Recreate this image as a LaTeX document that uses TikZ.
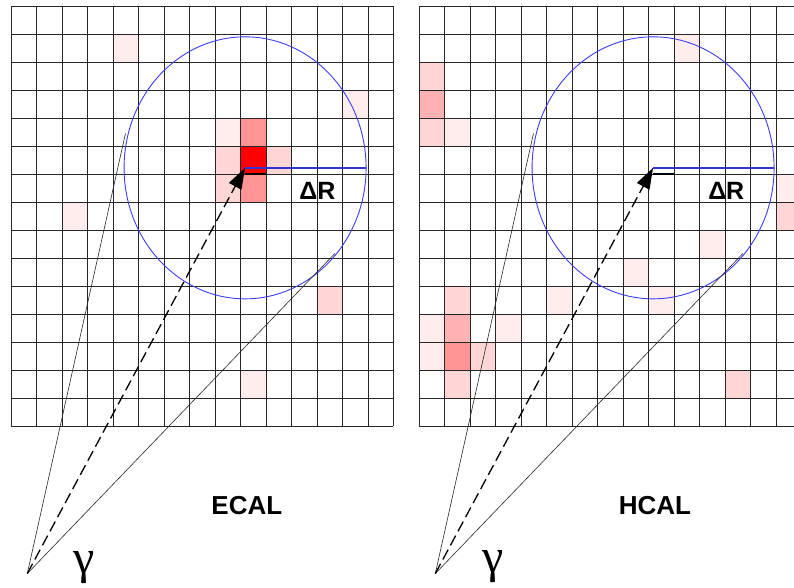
\documentclass[tikz,border=0pt]{standalone}
\usepackage{fontspec}
\setsansfont{Liberation Sans}
\newfontfamily\greekfont{Liberation Serif}
\usetikzlibrary{arrows.meta}
\definecolor{ringblue}{RGB}{60,60,250}

\begin{document}
\begin{tikzpicture}[x=25.5pt, y=-28pt,
  gridline/.style={black!85, line width=0.75pt},
  ringline/.style={ringblue, line width=0.9pt},
  radiusline/.style={ringblue!85!black, line width=1.6pt},
  coneline/.style={black!85, line width=0.6pt},
  axisline/.style={black, line width=1.3pt, dash pattern=on 11pt off 5pt, -{Triangle[length=21pt,width=14pt]}},
  stubline/.style={black, line width=1.3pt},
  hitfaint/.style={fill=red!7},
  hitlight/.style={fill=red!16},
  hitmid/.style={fill=red!30},
  hitstrong/.style={fill=red!42},
  hitcore/.style={fill=red},
  calname/.style={font=\sffamily\bfseries\fontsize{26}{27}\selectfont},
  drname/.style={font=\sffamily\bfseries\fontsize{25}{26}\selectfont},
  gammaname/.style={font=\greekfont\fontsize{48}{48}\selectfont}]
\clip (-0.431,-0.214) rectangle (30.706,20.786);
% ECAL deposits
\fill[hitfaint] (4,1) rectangle (5,2);
\fill[hitfaint] (13,3) rectangle (14,4);
\fill[hitfaint] (8,4) rectangle (9,5);
\fill[hitstrong] (9,4) rectangle (10,5);
\fill[hitlight] (8,5) rectangle (9,6);
\fill[hitcore] (9,5) rectangle (10,6);
\fill[hitlight] (10,5) rectangle (11,6);
\fill[hitlight] (8,6) rectangle (9,7);
\fill[hitstrong] (9,6) rectangle (10,7);
\fill[hitfaint] (2,7) rectangle (3,8);
\fill[hitlight] (12,10) rectangle (13,11);
\fill[hitfaint] (9,13) rectangle (10,14);
% HCAL deposits
\fill[hitfaint] (26,1) rectangle (27,2);
\fill[hitlight] (16,2) rectangle (17,3);
\fill[hitmid] (16,3) rectangle (17,4);
\fill[hitlight] (16,4) rectangle (17,5);
\fill[hitfaint] (17,4) rectangle (18,5);
\fill[hitfaint] (30,6) rectangle (31,7);
\fill[hitlight] (30,7) rectangle (31,8);
\fill[hitfaint] (27,8) rectangle (28,9);
\fill[hitfaint] (24,9) rectangle (25,10);
\fill[hitlight] (17,10) rectangle (18,11);
\fill[hitfaint] (21,10) rectangle (22,11);
\fill[hitfaint] (25,10) rectangle (26,11);
\fill[hitfaint] (16,11) rectangle (17,12);
\fill[hitmid] (17,11) rectangle (18,12);
\fill[hitfaint] (19,11) rectangle (20,12);
\fill[hitfaint] (16,12) rectangle (17,13);
\fill[hitstrong] (17,12) rectangle (18,13);
\fill[hitlight] (18,12) rectangle (19,13);
\fill[hitlight] (17,13) rectangle (18,14);
\fill[hitlight] (28,13) rectangle (29,14);
% ECAL towers
\draw[gridline] (0,0) -- (0,15);
\draw[gridline] (1,0) -- (1,15);
\draw[gridline] (2,0) -- (2,15);
\draw[gridline] (3,0) -- (3,15);
\draw[gridline] (4,0) -- (4,15);
\draw[gridline] (5,0) -- (5,15);
\draw[gridline] (6,0) -- (6,15);
\draw[gridline] (7,0) -- (7,15);
\draw[gridline] (8,0) -- (8,15);
\draw[gridline] (9,0) -- (9,15);
\draw[gridline] (10,0) -- (10,15);
\draw[gridline] (11,0) -- (11,15);
\draw[gridline] (12,0) -- (12,15);
\draw[gridline] (13,0) -- (13,15);
\draw[gridline] (14,0) -- (14,15);
\draw[gridline] (15,0) -- (15,15);
\draw[gridline] (0,0) -- (15,0);
\draw[gridline] (0,1) -- (15,1);
\draw[gridline] (0,2) -- (15,2);
\draw[gridline] (0,3) -- (15,3);
\draw[gridline] (0,4) -- (15,4);
\draw[gridline] (0,5) -- (15,5);
\draw[gridline] (0,6) -- (15,6);
\draw[gridline] (0,7) -- (15,7);
\draw[gridline] (0,8) -- (15,8);
\draw[gridline] (0,9) -- (15,9);
\draw[gridline] (0,10) -- (15,10);
\draw[gridline] (0,11) -- (15,11);
\draw[gridline] (0,12) -- (15,12);
\draw[gridline] (0,13) -- (15,13);
\draw[gridline] (0,14) -- (15,14);
\draw[gridline] (0,15) -- (15,15);
% HCAL towers
\draw[gridline] (16,0) -- (16,15);
\draw[gridline] (17,0) -- (17,15);
\draw[gridline] (18,0) -- (18,15);
\draw[gridline] (19,0) -- (19,15);
\draw[gridline] (20,0) -- (20,15);
\draw[gridline] (21,0) -- (21,15);
\draw[gridline] (22,0) -- (22,15);
\draw[gridline] (23,0) -- (23,15);
\draw[gridline] (24,0) -- (24,15);
\draw[gridline] (25,0) -- (25,15);
\draw[gridline] (26,0) -- (26,15);
\draw[gridline] (27,0) -- (27,15);
\draw[gridline] (28,0) -- (28,15);
\draw[gridline] (29,0) -- (29,15);
\draw[gridline] (30,0) -- (30,15);
\draw[gridline] (16,0) -- (31,0);
\draw[gridline] (16,1) -- (31,1);
\draw[gridline] (16,2) -- (31,2);
\draw[gridline] (16,3) -- (31,3);
\draw[gridline] (16,4) -- (31,4);
\draw[gridline] (16,5) -- (31,5);
\draw[gridline] (16,6) -- (31,6);
\draw[gridline] (16,7) -- (31,7);
\draw[gridline] (16,8) -- (31,8);
\draw[gridline] (16,9) -- (31,9);
\draw[gridline] (16,10) -- (31,10);
\draw[gridline] (16,11) -- (31,11);
\draw[gridline] (16,12) -- (31,12);
\draw[gridline] (16,13) -- (31,13);
\draw[gridline] (16,14) -- (31,14);
\draw[gridline] (16,15) -- (31,15);
% cone points
\coordinate (ecalhit) at (9.18,5.78);
\coordinate (ecaledge) at (13.925,5.78);
\coordinate (ecalvtx) at (0.64,20.27);
\coordinate (ecalup) at (4.49,4.55);
\coordinate (ecallow) at (12.7,8.84);
\coordinate (ecalstubA) at (9.18,6);
\coordinate (ecalstubB) at (10,6);
\coordinate (hcalhit) at (25.18,5.78);
\coordinate (hcaledge) at (29.925,5.78);
\coordinate (hcalvtx) at (16.64,20.27);
\coordinate (hcalup) at (20.49,4.55);
\coordinate (hcallow) at (28.7,8.84);
\coordinate (hcalstubA) at (25.18,6);
\coordinate (hcalstubB) at (26,6);
% ECAL cone
\draw[ringline] (ecalhit) ellipse [x radius=121pt, y radius=131pt];
\draw[radiusline] (ecalhit) -- (ecaledge);
\draw[stubline] (ecalstubA) -- (ecalstubB);
\draw[coneline] (ecalvtx) -- (ecalup);
\draw[coneline] (ecalvtx) -- (ecallow);
\draw[axisline] (ecalvtx) -- (ecalhit);
% HCAL cone
\draw[ringline] (hcalhit) ellipse [x radius=121pt, y radius=131pt];
\draw[radiusline] (hcalhit) -- (hcaledge);
\draw[stubline] (hcalstubA) -- (hcalstubB);
\draw[coneline] (hcalvtx) -- (hcalup);
\draw[coneline] (hcalvtx) -- (hcallow);
\draw[axisline] (hcalvtx) -- (hcalhit);
% labels
\node[drname] (ecaldr) at (12.02,6.6) {ΔR};
\node[drname] (hcaldr) at (28.05,6.6) {ΔR};
\node[calname] (ecalname) at (9.25,17.84) {ECAL};
\node[calname] (hcalname) at (25.25,17.84) {HCAL};
\node[gammaname] (ecalgamma) at (2.87,20.05) {γ};
\node[gammaname] (hcalgamma) at (18.89,20.02) {γ};
\end{tikzpicture}
\end{document}
